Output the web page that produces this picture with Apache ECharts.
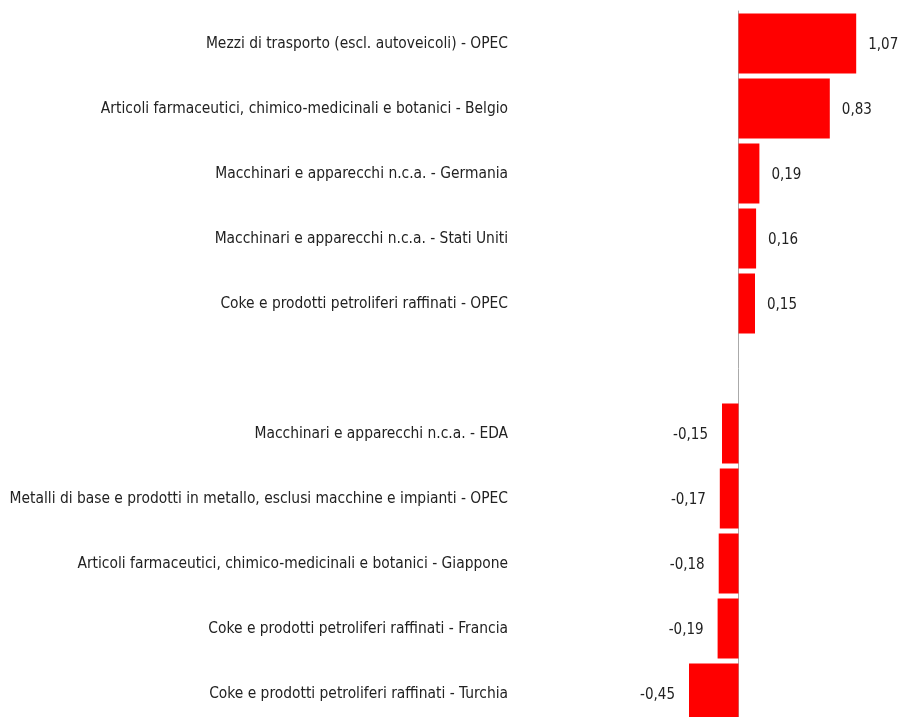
<!DOCTYPE html>
<html>
<head>
<meta charset="utf-8">
<script src="https://cdn.jsdelivr.net/npm/echarts@6/dist/echarts.min.js"></script>
<style>
html, body { margin: 0; padding: 0; background: #fff; overflow: hidden; }
#chart { width: 903px; height: 726px; }
</style>
</head>
<body>
<div id="chart"></div>
<script>
var categories = [
	'Mezzi di trasporto (escl. autoveicoli) - OPEC',
	'Articoli farmaceutici, chimico-medicinali e botanici - Belgio',
	'Macchinari e apparecchi n.c.a. - Germania',
	'Macchinari e apparecchi n.c.a. - Stati Uniti',
	'Coke e prodotti petroliferi raffinati - OPEC',
	'',
	'Macchinari e apparecchi n.c.a. - EDA',
	'Metalli di base e prodotti in metallo, esclusi macchine e impianti - OPEC',
	'Articoli farmaceutici, chimico-medicinali e botanici - Giappone',
	'Coke e prodotti petroliferi raffinati - Francia',
	'Coke e prodotti petroliferi raffinati - Turchia'
];
var values = [1.07, 0.83, 0.19, 0.16, 0.15, '-', -0.15, -0.17, -0.18, -0.19, -0.45];

var fontName = '"DejaVu Sans Condensed", "Liberation Sans Narrow", sans-serif';

var myChart = echarts.init(document.getElementById('chart'));

var option = {
	animation : false,
	grid : {
		left : 683.5,
		width : 209,
		top : 11,
		bottom : 0
	},
	xAxis : {
		type : 'value',
		min : -0.5,
		max : 1.4,
		show : false
	},
	yAxis : {
		type : 'category',
		inverse : true,
		data : categories,
		axisLine : {
			show : true,
			onZero : true,
			lineStyle : { color : '#aaaaaa', width : 1 }
		},
		axisTick : { show : false },
		splitLine : { show : false },
		axisLabel : {
			margin : 175.5,
			fontFamily : fontName,
			fontSize : 15.4,
			color : '#222'
		}
	},
	series : [ {
		type : 'bar',
		data : [],
		barCategoryGap : '8%',
		itemStyle : { color : '#ff0000' },
		label : {
			show : true,
			fontFamily : fontName,
			fontSize : 15,
			color : '#222',
			distance : 12,
			offset : [ 0, 2 ],
			position : 'right',
			formatter : function(p) {
				return p.value.toFixed(2).replace('.', ',');
			}
		}
	} ]
};

// negative bars get their label on the left side
option.series[0].data = values.map(function(v) {
	if (v === '-') return v;
	if (v < 0) return { value : v, label : { position : 'left', distance : 14 } };
	return v;
});

myChart.setOption(option);
</script>
</body>
</html>
